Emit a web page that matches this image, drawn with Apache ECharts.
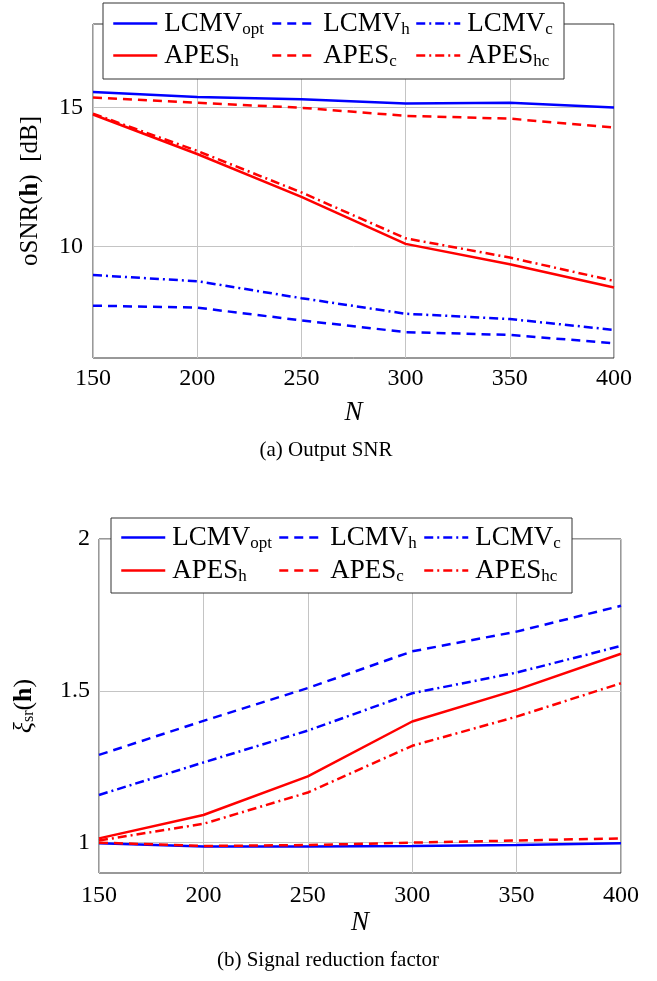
<!DOCTYPE html>
<html>
<head>
<meta charset="utf-8">
<script src="https://cdn.jsdelivr.net/npm/echarts@6/dist/echarts.min.js"></script>
<style>
html,body{margin:0;padding:0;background:#fff;}
#c{width:657px;height:981px;}
</style>
</head>
<body>
<div id="c"></div>
<script>
// ---- data ----
const N = [150, 200, 250, 300, 350, 400];
const xTicks = [150, 200, 250, 300, 350, 400];

// (a) Output SNR [dB]
const snrLCMVopt = [15.56, 15.38, 15.30, 15.14, 15.17, 15.00];
const snrLCMVh   = [7.88, 7.81, 7.35, 6.93, 6.83, 6.53];
const snrLCMVc   = [8.98, 8.76, 8.15, 7.59, 7.40, 7.01];
const snrAPESh   = [14.75, 13.33, 11.79, 10.10, 9.37, 8.53];
const snrAPESc   = [15.36, 15.17, 14.99, 14.70, 14.60, 14.28];
const snrAPEShc  = [14.78, 13.44, 11.95, 10.30, 9.61, 8.77];
const snrTicks = [10, 15];

// (b) Signal reduction factor
const srfLCMVopt = [0.998, 0.987, 0.987, 0.989, 0.992, 0.998];
const srfLCMVh   = [1.289, 1.401, 1.509, 1.630, 1.695, 1.780];
const srfLCMVc   = [1.157, 1.264, 1.369, 1.492, 1.560, 1.648];
const srfAPESh   = [1.014, 1.091, 1.218, 1.399, 1.503, 1.622];
const srfAPESc   = [1.000, 0.989, 0.992, 1.000, 1.007, 1.014];
const srfAPEShc  = [1.007, 1.062, 1.165, 1.319, 1.415, 1.525];
const srfTicks = [1, 1.5, 2];

const names = ['LCMVopt', 'LCMVh', 'LCMVc', 'APESh', 'APESc', 'APEShc'];
const legendLabel = {
  LCMVopt: '{m|LCMV}{s|opt}',
  LCMVh: '{m|LCMV}{s|h}',
  LCMVc: '{m|LCMV}{s|c}',
  APESh: '{m|APES}{s|h}',
  APESc: '{m|APES}{s|c}',
  APEShc: '{m|APES}{s|hc}'
};
const BLUE = '#0000ff', RED = '#ff0000';
const styles = {
  LCMVopt: {color: BLUE, type: 'solid'},
  LCMVh: {color: BLUE, type: [9, 6]},
  LCMVc: {color: BLUE, type: [9, 4, 2, 4]},
  APESh: {color: RED, type: 'solid'},
  APESc: {color: RED, type: [9, 6]},
  APEShc: {color: RED, type: [9, 4, 2, 4]}
};

const FONT = 'Liberation Serif';

function mkSeries(name, vals, idx) {
  return {
    type: 'line', name: name, xAxisIndex: idx, yAxisIndex: idx,
    data: N.map((n, i) => [n, vals[i]]),
    symbol: 'none', showSymbol: false, z: 2,
    lineStyle: {color: styles[name].color, type: styles[name].type, width: 2.5},
    itemStyle: {color: styles[name].color},
    animation: false
  };
}

const snrSets = [snrLCMVopt, snrLCMVh, snrLCMVc, snrAPESh, snrAPESc, snrAPEShc];
const srfSets = [srfLCMVopt, srfLCMVh, srfLCMVc, srfAPESh, srfAPESc, srfAPEShc];

const series = [];
names.forEach((n, i) => series.push(mkSeries(n, snrSets[i], 0)));
names.forEach((n, i) => series.push(mkSeries(n, srfSets[i], 1)));

// legends (positions of each entry)
const legendCols = [[112, 271, 415], [120, 278, 423]];
const legendRows = [[25, 57], [539, 572]];
const legends = [];
[0, 1].forEach(c => {
  names.forEach((n, i) => {
    const r = Math.floor(i / 3), col = i % 3;
    legends.push({
      data: [n], selectedMode: false, orient: 'horizontal',
      left: legendCols[c][col], top: legendRows[c][r] - 15,
      itemWidth: 44, itemHeight: 14, padding: 0, z: 6,
      itemStyle: {opacity: 0},
      lineStyle: {width: 2.5},
      formatter: nm => legendLabel[nm],
      textStyle: {
        padding: [0, 0, 0, 2],
        rich: {
          m: {fontFamily: FONT, fontSize: 27, color: '#000', lineHeight: 30},
          s: {fontFamily: FONT, fontSize: 17, color: '#000', lineHeight: 30, verticalAlign: 'bottom', padding: [6, 0, 0, 0]}
        }
      }
    });
  });
});

const axisLabelStyle = {fontFamily: FONT, fontSize: 24, color: '#000'};

const option = {
  backgroundColor: '#fff',
  animation: false,
  grid: [
    {left: 93, right: 43, top: 24, height: 334, show: true, borderColor: '#333', borderWidth: 1, backgroundColor: 'transparent', z: 0},
    {left: 99, right: 36, top: 539, height: 334, show: true, borderColor: '#333', borderWidth: 1, backgroundColor: 'transparent', z: 0}
  ],
  xAxis: [0, 1].map(i => ({
    type: 'value', gridIndex: i, min: 150, max: 400, interval: 50,
    axisLine: {show: false}, axisTick: {show: false},
    axisLabel: {show: true, margin: i === 0 ? 9 : 11, ...axisLabelStyle, customValues: xTicks},
    splitLine: {show: true, lineStyle: {color: '#c4c4c4', width: 1}},
    name: 'N', nameLocation: 'middle', nameGap: i === 0 ? 41 : 36,
    nameTextStyle: {fontFamily: FONT, fontSize: 27, fontStyle: 'italic', color: '#000'}
  })),
  yAxis: [
    {
      type: 'value', gridIndex: 0, min: 6, max: 18,
      axisLine: {show: false},
      axisTick: {show: false, customValues: snrTicks},
      axisLabel: {margin: 10, ...axisLabelStyle, customValues: snrTicks},
      splitLine: {show: true, lineStyle: {color: '#c4c4c4', width: 1}},
      name: '{t|oSNR(}{b|h}{t|)  [dB]}', nameLocation: 'middle', nameRotate: 90, nameGap: 50,
      nameTextStyle: {rich: {
        t: {fontFamily: FONT, fontSize: 25, color: '#000'},
        b: {fontFamily: FONT, fontSize: 25, color: '#000', fontWeight: 'bold'}
      }}
    },
    {
      type: 'value', gridIndex: 1, min: 0.9, max: 2,
      axisLine: {show: false},
      axisTick: {show: false, customValues: srfTicks},
      axisLabel: {margin: 9, ...axisLabelStyle, customValues: srfTicks},
      splitLine: {show: true, lineStyle: {color: '#c4c4c4', width: 1}},
      name: '{i|ξ}{s|sr}{t|(}{b|h}{t|)}', nameLocation: 'middle', nameRotate: 90, nameGap: 62,
      nameTextStyle: {rich: {
        i: {fontFamily: FONT, fontSize: 26, fontStyle: 'italic', color: '#000'},
        s: {fontFamily: FONT, fontSize: 16, color: '#000', verticalAlign: 'bottom', padding: [8, 0, 0, 0]},
        t: {fontFamily: FONT, fontSize: 26, color: '#000'},
        b: {fontFamily: FONT, fontSize: 26, color: '#000', fontWeight: 'bold'}
      }}
    }
  ],
  legend: legends,
  graphic: [
    {type: 'rect', shape: {x: 103, y: 3, width: 461, height: 76}, style: {fill: '#fff', stroke: '#333', lineWidth: 1}, z: 5},
    {type: 'rect', shape: {x: 111, y: 518, width: 461, height: 75}, style: {fill: '#fff', stroke: '#333', lineWidth: 1}, z: 5},
    {type: 'text', x: 326, y: 450, style: {text: '(a) Output SNR', fontFamily: FONT, fontSize: 21, fill: '#000', textAlign: 'center', textVerticalAlign: 'middle'}},
    {type: 'text', x: 328, y: 960, style: {text: '(b) Signal reduction factor', fontFamily: FONT, fontSize: 21, fill: '#000', textAlign: 'center', textVerticalAlign: 'middle'}}
  ],
  series: series
};

const chart = echarts.init(document.getElementById('c'), null, {renderer: 'canvas'});
chart.setOption(option);
</script>
</body>
</html>
